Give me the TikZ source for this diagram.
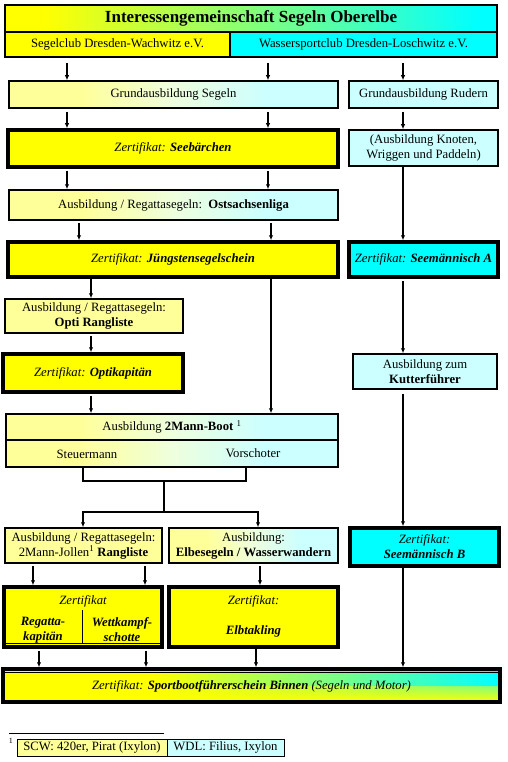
\documentclass[tikz,border=0pt]{standalone}
\usepackage{fontspec}
\setmainfont{Liberation Serif}
\usetikzlibrary{arrows.meta,fadings,calc}
\definecolor{lyel}{HTML}{FFFF99}
\definecolor{lcy}{HTML}{CCFFFF}
\definecolor{lmid}{HTML}{EEFFDD}
\definecolor{yel}{HTML}{FFFF00}
\definecolor{cy}{HTML}{00FFFF}
\pgfdeclarehorizontalshading{lygrad}{100bp}{color(0bp)=(lyel); color(25bp)=(lyel); color(36bp)=(lyel); color(50bp)=(lmid); color(64bp)=(lcy); color(75bp)=(lcy); color(100bp)=(lcy)}
\pgfdeclarehorizontalshading{ycgrad}{100bp}{color(0bp)=(yel); color(25bp)=(yel); color(29bp)=(yel); color(73bp)=(cy); color(75bp)=(cy); color(100bp)=(cy)}
\pgfdeclarehorizontalshading{spgrad}{100bp}{color(0bp)=(yel); color(25bp)=(yel); color(40bp)=(yel); color(75bp)=(cy); color(100bp)=(cy)}
\begin{document}
\begin{tikzpicture}[x=1pt,y=-1pt,
  font=\fontsize{12.7}{15}\selectfont,
  box/.style={draw, line width=1.5pt, inner sep=0pt, align=center},
  thickbox/.style={draw, line width=3.5pt, inner sep=0pt, align=center},
  txt/.style={inner sep=0pt, align=center},
  arr/.style={line width=1.3pt, -{Latex[length=5pt,width=4.5pt]}},
  ln/.style={line width=1.3pt}]
\useasboundingbox (0,0) rectangle (508,762);
% columns
\foreach \n/\x in {c33/33,c39/39,c67/67,c79/79,c83/83,c91/91,c145/145,c146/146,c246/246,c256/256,c258/258,c260/260,c268/268,c271/271,c403/403}
  {\coordinate (\n) at (\x,0);}
% header
\node[draw, line width=2pt, inner sep=0pt, shading=ycgrad, minimum width=492pt, minimum height=27pt, font=\fontsize{17}{20}\selectfont\bfseries] (title) at (251,18.5) {Interessengemeinschaft Segeln Oberelbe};
\node[draw, line width=2pt, inner sep=0pt, fill=yel, minimum width=225pt, minimum height=25pt] (scw) at (117.5,44.5) {Segelclub Dresden-Wachwitz e.V.};
\node[draw, line width=2pt, inner sep=0pt, fill=cy, minimum width=267pt, minimum height=25pt] (wdl) at (363.5,44.5) {Wassersportclub Dresden-Loschwitz e.V.};
% row boxes
\node[box, shading=lygrad, minimum width=329pt, minimum height=27pt] (gs) at (173.5,94.5) {Grundausbildung Segeln};
\node[box, fill=lcy, minimum width=149pt, minimum height=27pt] (gr) at (423.5,94.5) {Grundausbildung Rudern};
\node[thickbox, fill=yel, minimum width=330pt, minimum height=37pt] (seeb) at (173,148.5) {\itshape Zertifikat: \bfseries Seebärchen};
\node[box, fill=lcy, minimum width=149pt, minimum height=36pt] (knot) at (423.5,148) {(Ausbildung Knoten,\\Wriggen und Paddeln)};
\node[box, shading=lygrad, minimum width=329pt, minimum height=30pt] (ost) at (173.5,205) {Ausbildung / Regattasegeln:\ \ \textbf{Ostsachsenliga}};
\node[thickbox, fill=yel, minimum width=330pt, minimum height=35pt] (jung) at (173,259.5) {\itshape Zertifikat: \bfseries Jüngstensegelschein};
\node[thickbox, fill=cy, minimum width=149pt, minimum height=35pt] (seeA) at (423.5,259.5) {\itshape Zertifikat: \bfseries Seemännisch A};
\node[box, fill=lyel, minimum width=178pt, minimum height=34pt] (opti) at (94,316) {Ausbildung / Regattasegeln:\\\textbf{Opti Rangliste}};
\node[thickbox, fill=yel, minimum width=180pt, minimum height=38pt] (optik) at (93,373) {\itshape Zertifikat: \bfseries Optikapitän};
\node[box, fill=lcy, minimum width=144pt, minimum height=35pt] (kutter) at (425,371.5) {Ausbildung zum\\\textbf{Kutterführer}};
\node[box, shading=lygrad, minimum width=332pt, minimum height=53pt] (mann) at (172,440.5) {};
\coordinate (dy) at (0,440);
\draw[line width=1.5pt] (mann.west |- dy) -- (mann.east |- dy);
\node[txt] (manntxt) at (172,427) {Ausbildung \textbf{2Mann-Boot} \textsuperscript{1}};
\node[txt] (steuer) at (87,454) {Steuermann};
\node[txt] (vorsch) at (253,453) {Vorschoter};
\node[box, fill=lyel, minimum width=157pt, minimum height=35pt] (rang) at (83.5,545.5) {Ausbildung / Regattasegeln:\\2Mann-Jollen\textsuperscript{1} \textbf{Rangliste}};
\node[box, shading=lygrad, minimum width=169pt, minimum height=35pt] (elbe) at (253.5,545.5) {Ausbildung:\\\textbf{Elbesegeln / Wasserwandern}};
\node[thickbox, fill=cy, minimum width=149pt, minimum height=38pt] (seeB) at (424.5,547) {\itshape Zertifikat:\\\itshape\bfseries Seemännisch B};
\node[thickbox, fill=yel, minimum width=158pt, minimum height=60pt] (regk) at (83,617) {};
\coordinate (dv1) at (82,610);
\coordinate (dv2) at (82,643);
\draw[line width=0.8pt] (dv1) -- (dv2);
\draw[line width=0.7pt] ($(regk.south west)+(3,-5)$) -- ($(regk.south east)+(-3,-5)$);
\node[txt, font=\fontsize{12.7}{15}\selectfont\itshape] (regz) at (83,601) {Zertifikat};
\node[txt, font=\fontsize{12.7}{15}\selectfont\itshape\bfseries] (regkap) at (43,630) {Regatta-\\kapitän};
\node[txt, font=\fontsize{12.7}{15}\selectfont\itshape\bfseries] (wett) at (122,630) {Wettkampf-\\schotte};
\node[thickbox, fill=yel, minimum width=169pt, minimum height=60pt] (elbt) at (253.5,617) {};
\node[txt, font=\fontsize{12.7}{15}\selectfont\itshape] (elbz) at (253.5,601) {Zertifikat:};
\node[txt, font=\fontsize{12.7}{15}\selectfont\itshape\bfseries] (elbk) at (253.5,631) {Elbtakling};
\node[thickbox, shading=spgrad, minimum width=497pt, minimum height=33pt,
  path picture={\fill[yel, path fading=north] (path picture bounding box.west) rectangle (path picture bounding box.south east);}] (sport) at (251.5,685.5) {};
\draw[line width=0.7pt] ($(sport.north west)+(3,5)$) -- ($(sport.north east)+(-3,5)$);
\node[txt] (sporttxt) at (251.5,686) {\itshape Zertifikat: \textbf{Sportbootführerschein Binnen} (Segeln und Motor)};
% footnote
\coordinate (fr1) at (9,733);
\coordinate (fr2) at (164,733);
\draw[line width=0.8pt] (fr1) -- (fr2);
\node[txt, font=\fontsize{8}{9}\selectfont] (fnmark) at (11,741) {1};
\node[draw, line width=1pt, fill=lyel, inner sep=0pt, minimum width=150pt, minimum height=17pt] (fnl) at (92,747.5) {SCW: 420er, Pirat (Ixylon)};
\node[draw, line width=1pt, fill=lcy, inner sep=0pt, minimum width=117pt, minimum height=17pt] (fnr) at (225.5,747.5) {WDL: Filius, Ixylon};
% arrows
\draw[arr, shorten <=5pt] (scw.south -| c67) -- (gs.north -| c67);
\draw[arr, shorten <=5pt] (wdl.south -| c268) -- (gs.north -| c268);
\draw[arr, shorten <=5pt] (wdl.south -| c403) -- (gr.north -| c403);
\draw[arr, shorten <=3pt] (gs.south -| c67) -- (seeb.north -| c67);
\draw[arr, shorten <=3pt] (gs.south -| c268) -- (seeb.north -| c268);
\draw[arr, shorten <=3pt] (gr.south -| c403) -- (knot.north -| c403);
\draw[arr, shorten <=2pt] (seeb.south -| c67) -- (ost.north -| c67);
\draw[arr, shorten <=2pt] (seeb.south -| c268) -- (ost.north -| c268);
\draw[arr] (knot.south -| c403) -- (seeA.north -| c403);
\draw[arr, shorten <=2pt] (ost.south -| c79) -- (jung.north -| c79);
\draw[arr, shorten <=2pt] (ost.south -| c271) -- (jung.north -| c271);
\draw[arr] (jung.south -| c91) -- (opti.north -| c91);
\draw[arr] (jung.south -| c271) -- (mann.north -| c271);
\draw[arr, shorten <=2pt] (opti.south -| c91) -- (optik.north -| c91);
\draw[arr, shorten <=2pt] (optik.south -| c91) -- (mann.north -| c91);
\draw[arr, shorten <=2pt] (seeA.south -| c403) -- (kutter.north -| c403);
\draw[arr, shorten <=4pt] (kutter.south -| c403) -- (seeB.north -| c403);
\coordinate (jn) at (164,481);
\coordinate (sp) at (164,512);
\draw[ln] (mann.south -| c83) -- (c83 |- jn) -- (c246 |- jn) -- (mann.south -| c246);
\draw[ln] (jn) -- (sp);
\draw[arr] (sp) -| (rang.north -| c83);
\draw[arr] (sp) -| (elbe.north -| c258);
\draw[arr, shorten <=2pt] (rang.south -| c33) -- (regk.north -| c33);
\draw[arr, shorten <=2pt] (rang.south -| c145) -- (regk.north -| c145);
\draw[arr, shorten <=2pt] (elbe.south -| c260) -- (elbt.north -| c260);
\draw[arr, shorten <=2pt] (regk.south -| c39) -- (sport.north -| c39);
\draw[arr, shorten <=2pt] (regk.south -| c146) -- (sport.north -| c146);
\draw[arr] (elbt.south -| c256) -- (sport.north -| c256);
\draw[arr] (seeB.south -| c403) -- (sport.north -| c403);
\end{tikzpicture}
\end{document}
